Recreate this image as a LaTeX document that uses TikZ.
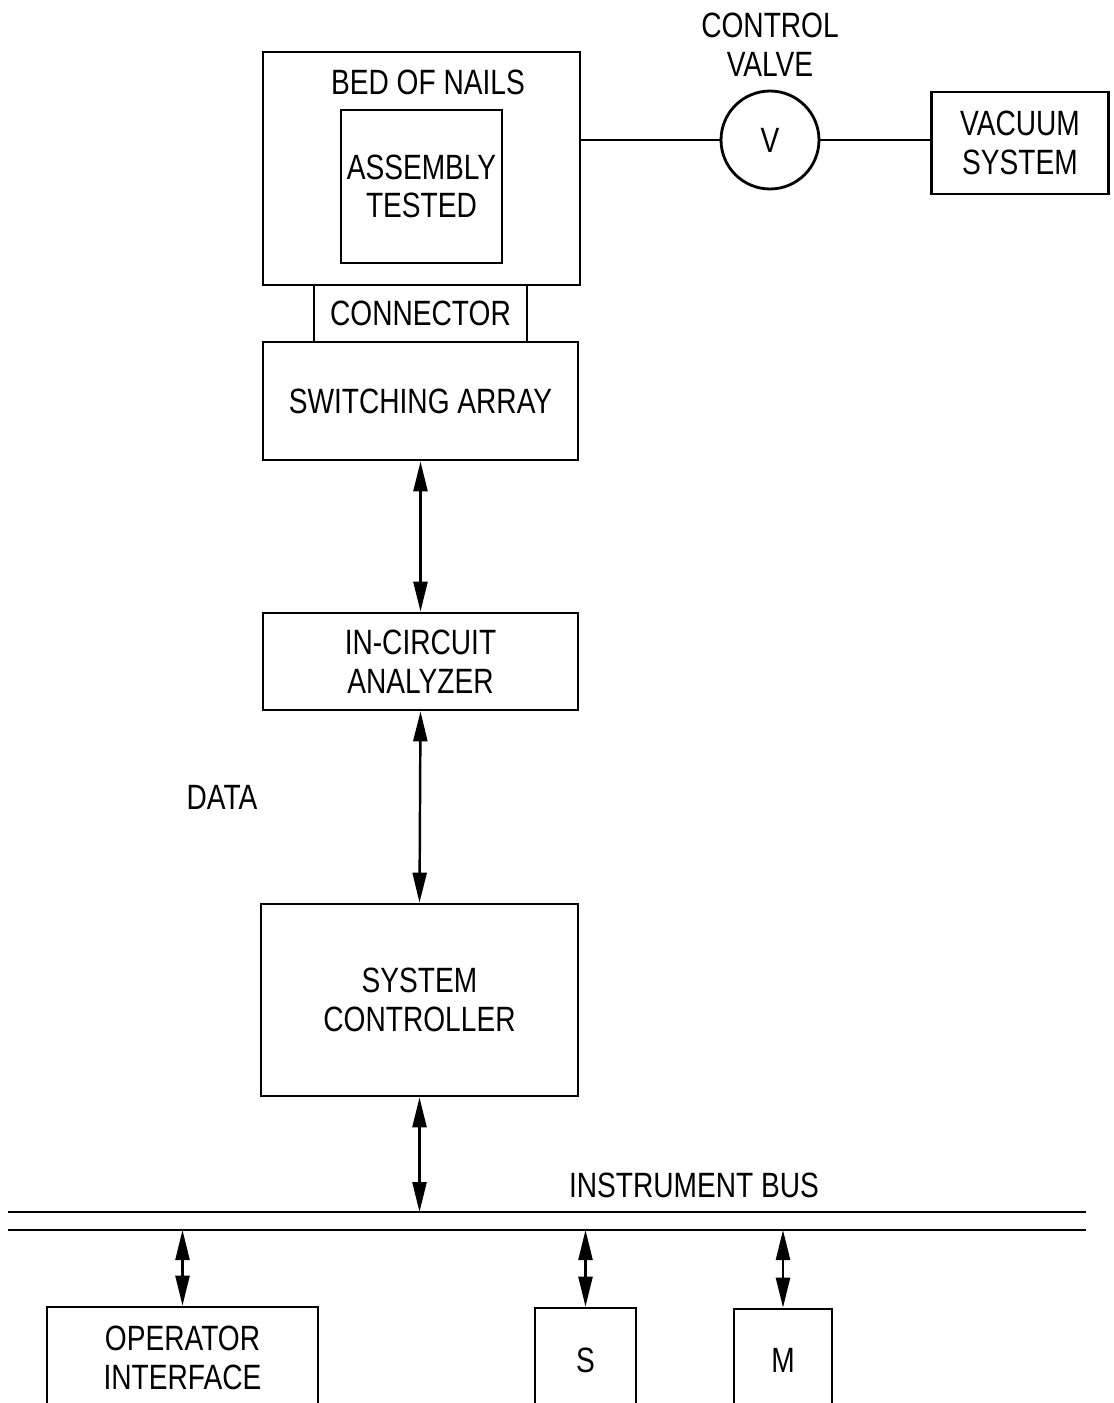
\documentclass[tikz,border=0pt]{standalone}
\usepackage{fontspec}
\newfontfamily\handfont{Liberation Sans}[FakeStretch=0.8]
\usetikzlibrary{arrows.meta,positioning}
\tikzset{box/.style={draw=black,line width=1.6pt,fill=white,align=center,inner sep=0pt,font=\handfont\fontsize{20}{22}\selectfont},dbl/.style={{Triangle[length=6mm,width=2.8mm]}-{Triangle[length=6mm,width=2.8mm]},line width=1.4pt},pipe/.style={line width=1.1pt},bus/.style={line width=1.6pt},lab/.style={align=center,inner sep=0pt,font=\handfont\fontsize{20}{22}\selectfont}}

\begin{document}
\begin{tikzpicture}[x=0.02cm,y=-0.02cm]
\useasboundingbox (0,0) rectangle (1113,1403);
\clip (0,0) rectangle (1113,1403);
\node[box,minimum width=6.34cm,minimum height=4.66cm] (bed) at (421.5,168.5) {};
\node[lab] (bedlab) at (428,82) {BED OF NAILS};
\node[box,minimum width=3.22cm,minimum height=3.06cm] (asm) at (421.5,186.5) {ASSEMBLY\\TESTED};
\node[box,minimum width=4.26cm,minimum height=1.14cm] (conn) at (420.5,313.5) {CONNECTOR};
\node[box,minimum width=6.3cm,minimum height=2.36cm] (sw) at (420.5,401) {SWITCHING ARRAY};
\node[box,circle,minimum size=1.96cm] (valve) at (770,140) {V};
\node[lab] (vlab) at (770,45) {CONTROL\\VALVE};
\node[box,minimum width=3.54cm,minimum height=2.04cm] (vac) at (1020,143) {VACUUM\\SYSTEM};
\node[box,minimum width=6.3cm,minimum height=1.94cm] (ica) at (420.5,661.5) {IN-CIRCUIT\\ANALYZER};
\node[lab] (data) at (222,797) {DATA};
\node[box,minimum width=6.34cm,minimum height=3.84cm] (sc) at (419.5,1000) {SYSTEM\\CONTROLLER};
\node[lab] (buslab) at (694,1185) {INSTRUMENT BUS};
\node[box,minimum width=5.42cm,minimum height=2.04cm] (op) at (182.5,1358) {OPERATOR\\INTERFACE};
\node[box,minimum width=2.02cm,minimum height=2.08cm] (s) at (585.5,1360) {S};
\node[box,minimum width=1.96cm,minimum height=2.04cm] (m) at (783,1360) {M};
\coordinate (busTL) at (8,1212);
\coordinate (busTR) at (1086,1212);
\coordinate (busBL) at (8,1230);
\coordinate (busBR) at (1086,1230);
\draw[bus] (busTL) -- (busTR);
\draw[bus] (busBL) -- (busBR);
\draw[pipe] (valve.west -| bed.east) -- (valve.west);
\draw[pipe] (valve.east) -- (valve.east -| vac.west);
\draw[dbl] (sw.south) -- (ica.north);
\draw[dbl] (ica.south) -- (sc.north);
\draw[dbl] (sc.south) -- (sc.south |- busTL);
\draw[dbl] (op.north |- busBL) -- (op.north);
\draw[dbl] (s.north |- busBL) -- (s.north);
\draw[dbl] (m.north |- busBL) -- (m.north);
\end{tikzpicture}
\end{document}
